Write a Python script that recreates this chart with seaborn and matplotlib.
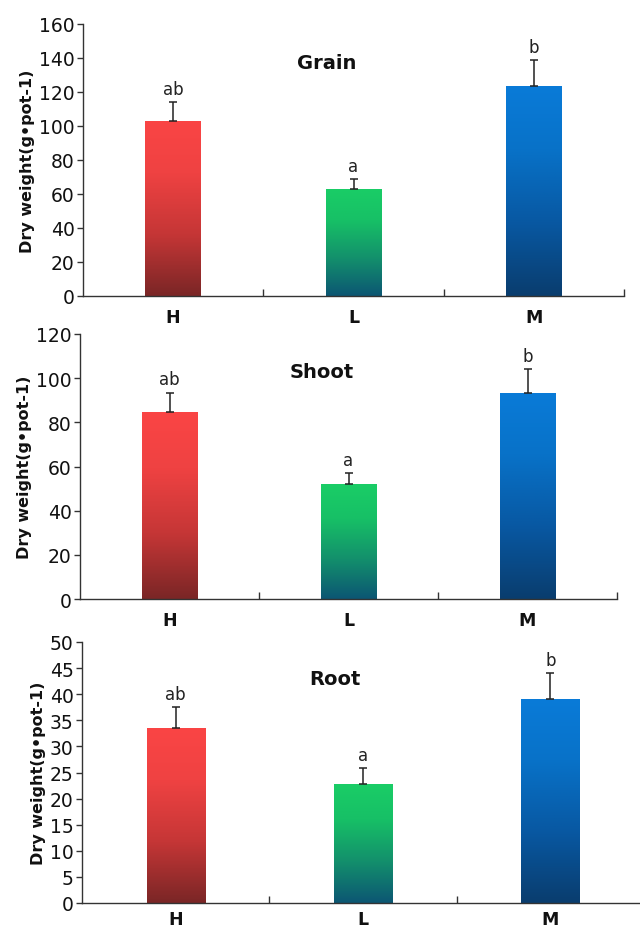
import numpy as np
import pandas as pd
import matplotlib
matplotlib.use("Agg")
import matplotlib.pyplot as plt
from matplotlib.colors import LinearSegmentedColormap
import seaborn as sns

# Treatments and measured dry weights (g·pot-1)
treatments = ["H", "L", "M"]
grain_mean = [103, 63, 123.5]
grain_err = [11, 6, 15.5]
shoot_mean = [84.5, 52, 93.5]
shoot_err = [9, 5, 10.5]
root_mean = [33.5, 22.8, 39.0]
root_err = [4.0, 3.0, 5.0]
letters_grain = ["ab", "a", "b"]
letters_shoot = ["ab", "a", "b"]
letters_root = ["ab", "a", "b"]
panel_titles = ["Grain", "Shoot", "Root"]
y_limits = [160, 120, 50]
y_steps = [20, 20, 5]

# Gradient stops for each treatment, from bar bottom (0) to bar top (1)
grad_stops = {
    "H": [(0.0, "#7a2626"), (0.35, "#c53636"), (0.7, "#ef4242"), (1.0, "#fa4545")],
    "L": [(0.0, "#0c5673"), (0.35, "#13906c"), (0.7, "#17c066"), (1.0, "#1acd66")],
    "M": [(0.0, "#0a3d6e"), (0.35, "#0858a2"), (0.7, "#0872c8"), (1.0, "#0a7bd8")],
}

sns.set_theme(style="white")
plt.rcParams["font.family"] = ["DejaVu Sans"]

fig = plt.figure(figsize=(6.4, 9.28), dpi=100)
H = 928.0
W = 640.0
# axes rectangles in pixel terms: left, right, top, bottom
rects = [
    (83, 624, 25, 297),
    (80, 617, 335, 600),
    (82, 644, 643, 904),
]
label_pads = [9, 9, 5]

panels = [
    (grain_mean, grain_err, letters_grain),
    (shoot_mean, shoot_err, letters_shoot),
    (root_mean, root_err, letters_root),
]

for i, ((means, errs, letters), (l, r, t, b)) in enumerate(zip(panels, rects)):
    ax = fig.add_axes([l / W, 1 - b / H, (r - l) / W, (b - t) / H])
    df = pd.DataFrame({"treatment": treatments, "weight": means})
    sns.barplot(data=df, x="treatment", y="weight", hue="treatment",
                palette=[grad_stops[t_][-1][1] for t_ in treatments],
                width=0.31, legend=False, ax=ax, errorbar=None)

    # vertical colour gradient inside each bar
    for patch, trt in zip(ax.patches, treatments):
        x0, y0 = patch.get_x(), patch.get_y()
        w, h = patch.get_width(), patch.get_height()
        cmap = LinearSegmentedColormap.from_list(trt, grad_stops[trt])
        grad = np.linspace(0, 1, 256).reshape(-1, 1)
        im = ax.imshow(grad, cmap=cmap, origin="lower", aspect="auto",
                       extent=[x0, x0 + w, y0, y0 + h], zorder=2)
        im.set_clip_path(patch)
        patch.set_facecolor("none")
        patch.set_edgecolor("none")
    ax.set_xlim(-0.5, 2.5)
    ax.set_ylim(0, y_limits[i])

    centers = [p.get_x() + p.get_width() / 2 for p in ax.patches]
    ax.errorbar(centers, means, yerr=[np.zeros(len(means)), errs], fmt="none",
                ecolor="#222222", elinewidth=1.1, capsize=3, capthick=1.1, zorder=3)

    for cx, m, e, lab in zip(centers, means, errs, letters):
        ax.annotate(lab, (cx, m + e), xytext=(0, 3), textcoords="offset points",
                    ha="center", va="bottom", fontsize=12, color="#222222")

    ax.text(0.45, 0.86, panel_titles[i], transform=ax.transAxes, ha="center",
            va="center", fontsize=14, fontweight="bold", color="#111111")

    ax.set_yticks(np.arange(0, y_limits[i] + 0.1, y_steps[i]))
    ax.tick_params(axis="y", which="major", direction="out", length=4, width=1,
                   labelsize=13.5, color="#333333", labelcolor="#111111", pad=2, left=True)
    ax.set_xticks([0, 1, 2])
    ax.set_xticklabels(treatments, fontweight="bold")
    ax.tick_params(axis="x", which="major", length=0, labelsize=12.5,
                   pad=label_pads[i], labelcolor="#111111")
    ax.set_xticks([0.5, 1.5, 2.5], minor=True)
    ax.tick_params(axis="x", which="minor", direction="in", length=5, width=1,
                   color="#333333", bottom=True)
    ax.set_xlabel("")
    ax.set_ylabel("Dry weight(g\u2022pot-1)", fontsize=11.5, fontweight="bold",
                  color="#111111", labelpad=3)
    for side in ["top", "right"]:
        ax.spines[side].set_visible(False)
    for side in ["left", "bottom"]:
        ax.spines[side].set_color("#333333")
        ax.spines[side].set_linewidth(1.0)

fig.savefig("out.png", dpi=100, facecolor="white")
